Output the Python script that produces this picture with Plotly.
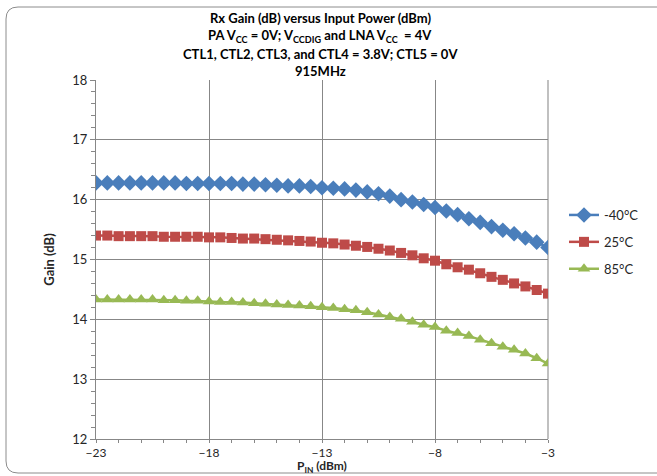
import plotly.graph_objects as go

p_in = [-23, -22.5, -22, -21.5, -21, -20.5, -20, -19.5, -19, -18.5, -18, -17.5, -17, -16.5,
        -16, -15.5, -15, -14.5, -14, -13.5, -13, -12.5, -12, -11.5, -11, -10.5, -10, -9.5,
        -9, -8.5, -8, -7.5, -7, -6.5, -6, -5.5, -5, -4.5, -4, -3.5, -3]

gain_m40 = [16.28, 16.28, 16.28, 16.28, 16.28, 16.28, 16.28, 16.28, 16.27, 16.27, 16.27, 16.27,
            16.27, 16.26, 16.26, 16.25, 16.24, 16.23, 16.23, 16.22, 16.20, 16.19, 16.18, 16.16,
            16.13, 16.10, 16.06, 16.00, 15.96, 15.92, 15.87, 15.81, 15.75, 15.68, 15.62, 15.55,
            15.49, 15.43, 15.36, 15.29, 15.20]

gain_25 = [15.40, 15.40, 15.39, 15.39, 15.39, 15.39, 15.38, 15.38, 15.38, 15.38, 15.37, 15.37,
           15.36, 15.35, 15.35, 15.34, 15.33, 15.32, 15.31, 15.30, 15.28, 15.27, 15.25, 15.23,
           15.21, 15.18, 15.15, 15.11, 15.07, 15.02, 14.98, 14.92, 14.87, 14.83, 14.77, 14.71,
           14.66, 14.60, 14.55, 14.49, 14.43]

gain_85 = [14.33, 14.33, 14.33, 14.33, 14.33, 14.33, 14.32, 14.32, 14.31, 14.31, 14.30, 14.29,
           14.29, 14.28, 14.27, 14.26, 14.25, 14.24, 14.23, 14.22, 14.20, 14.19, 14.17, 14.15,
           14.12, 14.08, 14.04, 14.01, 13.96, 13.91, 13.87, 13.81, 13.77, 13.72, 13.66, 13.60,
           13.54, 13.49, 13.43, 13.35, 13.26]

series_names = ["-40°C", "25°C", "85°C"]
x_ticks = [-23, -18, -13, -8, -3]
y_ticks = [12, 13, 14, 15, 16, 17, 18]

title_lines = [
    "Rx Gain (dB) versus Input Power (dBm)",
    "PA V<sub>CC</sub> = 0V; V<sub>CCDIG</sub> and LNA V<sub>CC</sub>  = 4V",
    "CTL1, CTL2, CTL3, and CTL4 = 3.8V; CTL5 = 0V",
    "915MHz",
]
x_title = "P<sub>IN</sub> (dBm)"
y_title = "Gain (dB)"

W, H = 657, 476
L, R, T, B = 96, 548, 80, 439
FONT = "Lato"


def px2x(px):
    return (px - L) / (R - L)


def py2y(py):
    return (B - py) / (B - T)


fig = go.Figure()
styles = [
    dict(color="#4A7EBB", symbol="diamond", size=12),
    dict(color="#BE4B48", symbol="square", size=10),
    dict(color="#98B954", symbol="triangle-up", size=11),
]
for name, ys, st, in zip(series_names, [gain_m40, gain_25, gain_85], styles):
    fig.add_trace(go.Scatter(
        x=p_in, y=ys, name=name, mode="lines+markers",
        line=dict(color=st["color"], width=2.5),
        marker=dict(color=st["color"], symbol=st["symbol"], size=st["size"], line=dict(width=0)),
        legendgroup=name,
    ))

grid = "#878787"
fig.update_xaxes(
    range=[-23, -3], tickvals=x_ticks, ticks="outside", ticklen=3, tickcolor=grid,
    showline=True, linecolor=grid, linewidth=1, mirror=False, automargin=False,
    showgrid=True, gridcolor=grid, gridwidth=1, zeroline=False,
    minor=dict(dtick=1, ticks="outside", ticklen=3, tickcolor=grid, showgrid=False),
    tickfont=dict(family=FONT, size=12, color="#262626"),
)
fig.update_yaxes(
    range=[12, 18], tickvals=y_ticks, ticks="outside", ticklen=5, tickcolor=grid,
    showline=True, linecolor=grid, linewidth=1, automargin=False,
    showgrid=True, gridcolor=grid, gridwidth=1, zeroline=False,
    minor=dict(dtick=0.2, ticks="outside", ticklen=4, tickcolor=grid, showgrid=False),
    tickfont=dict(family=FONT, size=13, color="#262626"),
    title=dict(text="<b>" + y_title + "</b>", font=dict(family=FONT, size=13, color="#262626"), standoff=14),
)

annotations = []
title_y = [18, 36, 54, 71]
for txt, yy in zip(title_lines, title_y):
    annotations.append(dict(
        text="<b>" + txt + "</b>", x=px2x(320), y=py2y(yy), xref="paper", yref="paper",
        showarrow=False, xanchor="center", yanchor="middle",
        font=dict(family=FONT, size=13, color="#000000"),
    ))
annotations.append(dict(
    text="<b>" + x_title + "</b>", x=px2x(322), y=py2y(476), xref="paper", yref="paper",
    showarrow=False, xanchor="center", yanchor="bottom", borderpad=0,
    font=dict(family=FONT, size=12, color="#262626"),
))

# right plot-area edge line
shapes = [dict(type="line", xref="paper", yref="paper", x0=1, x1=1, y0=0, y1=1,
               line=dict(color="#C0C0C0", width=2), layer="below")]
# rounded chart border
bl, bt, bb, br = 6, 7, 473, 700
rx = 12 / (R - L)
ry = 12 / (B - T)
x0, x1 = px2x(bl), px2x(br)
y0, y1 = py2y(bb), py2y(bt)
path = (f"M {x0+rx},{y1} L {x1-rx},{y1} Q {x1},{y1} {x1},{y1-ry} L {x1},{y0+ry} "
        f"Q {x1},{y0} {x1-rx},{y0} L {x0+rx},{y0} Q {x0},{y0} {x0},{y0+ry} "
        f"L {x0},{y1-ry} Q {x0},{y1} {x0+rx},{y1} Z")
shapes.append(dict(type="path", path=path, xref="paper", yref="paper",
                   line=dict(color="#8C8C8C", width=1)))

fig.update_layout(
    width=W, height=H,
    margin=dict(l=L, r=W - R, t=T, b=H - B, autoexpand=False),
    paper_bgcolor="white", plot_bgcolor="white",
    showlegend=True,
    legend=dict(x=px2x(564), y=py2y(200), xanchor="left", yanchor="top",
                font=dict(family=FONT, size=13, color="#262626"),
                tracegroupgap=7, traceorder="grouped", bgcolor="rgba(0,0,0,0)"),
    annotations=annotations,
    shapes=shapes,
)

fig.write_html("out.html")
